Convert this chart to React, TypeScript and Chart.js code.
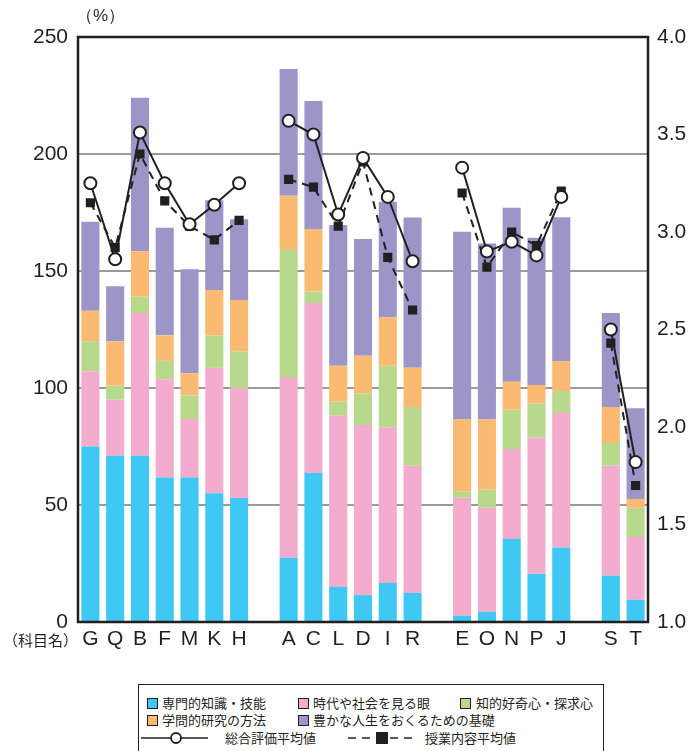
import React, { useEffect, useRef } from "react";
import { Chart, registerables } from "chart.js";

Chart.register(...registerables);

const categories = ["G", "Q", "B", "F", "M", "K", "H", "", "A", "C", "L", "D", "I", "R", "", "E", "O", "N", "P", "J", "", "S", "T"];

const seriesNames = ["専門的知識・技能", "時代や社会を見る眼", "知的好奇心・探求心", "学問的研究の方法", "豊かな人生をおくるための基礎"];
const seriesColors = ["#40C8F4", "#F3ACCD", "#B8D98C", "#FBBA72", "#9C96C8"];

const knowledge = [75, 71, 71, 61.7, 61.7, 55, 53, null, 27.5, 63.7, 15, 11.5, 16.7, 12.4, null, 2.7, 4.4, 35.5, 20.6, 31.8, null, 19.8, 9.5];
const society = [32, 24, 61, 42, 25, 53.6, 47, null, 77.2, 72.6, 73.2, 72.7, 66.3, 54.4, null, 50.4, 44.4, 38.4, 58.2, 57.5, null, 47, 26.8];
const curiosity = [13, 6, 7, 7.9, 10.2, 13.9, 15.7, null, 54.7, 4.9, 6, 13.4, 26.5, 25.1, null, 2.6, 7.7, 16.8, 14.5, 9.4, null, 9.7, 12.5];
const method = [13, 19, 19.5, 10.9, 9.4, 19.4, 21.9, null, 22.8, 26.8, 15.3, 16.2, 20.8, 16.8, null, 30.8, 30, 12, 8, 12.8, null, 15.4, 3.8];
const lifeBase = [38, 23.5, 65.5, 46, 44.5, 38.3, 34.5, null, 54.1, 54.6, 60.2, 49.9, 49.3, 64.2, null, 80.3, 75.2, 74.3, 62.9, 61.5, null, 40.1, 38.7];

const overallAvg = [3.25, 2.86, 3.51, 3.25, 3.04, 3.14, 3.25, null, 3.57, 3.5, 3.09, 3.38, 3.18, 2.85, null, 3.33, 2.9, 2.95, 2.88, 3.18, null, 2.5, 1.82];
const contentAvg = [3.15, 2.92, 3.4, 3.16, 3.03, 2.96, 3.06, null, 3.27, 3.23, 3.03, 3.36, 2.87, 2.6, null, 3.2, 2.82, 3.0, 2.93, 3.21, null, 2.43, 1.7];

const lineNames = ["総合評価平均値", "授業内容平均値"];

const leftTicks = [0, 50, 100, 150, 200, 250];
const rightTicks = [1.0, 1.5, 2.0, 2.5, 3.0, 3.5, 4.0];

const INK = "#231F20";
const NUM_FONT = "'Liberation Sans', Arial, Helvetica, sans-serif";
const JP_FONT = "'Noto Sans CJK JP', 'Noto Sans', sans-serif";

const frame = {
  id: "frame",
  afterDraw(chart: any) {
    const { ctx, chartArea } = chart;
    ctx.save();
    ctx.strokeStyle = INK;
    ctx.lineWidth = 2.5;
    ctx.strokeRect(chartArea.left, chartArea.top, chartArea.right - chartArea.left, chartArea.bottom - chartArea.top);
    ctx.restore();
  },
};

export default function App() {
  const ref = useRef<HTMLCanvasElement | null>(null);

  useEffect(() => {
    if (!ref.current) return;
    const barSets = [knowledge, society, curiosity, method, lifeBase].map((d, i) => ({
      type: "bar" as const,
      label: seriesNames[i],
      data: d,
      backgroundColor: seriesColors[i],
      borderWidth: 0,
      yAxisID: "y",
      stack: "s",
      barPercentage: 0.73,
      categoryPercentage: 1,
      order: 2,
    }));
    const chart = new Chart(ref.current, {
      type: "bar",
      data: {
        labels: categories,
        datasets: [
          ...barSets,
          {
            type: "line" as const,
            label: lineNames[1],
            data: contentAvg,
            yAxisID: "y2",
            borderColor: INK,
            borderWidth: 2,
            borderDash: [8, 6],
            pointStyle: "rect",
            pointRadius: 6.5,
            pointBackgroundColor: INK,
            pointBorderColor: INK,
            pointBorderWidth: 0,
            spanGaps: false,
            order: 1,
          } as any,
          {
            type: "line" as const,
            label: lineNames[0],
            data: overallAvg,
            yAxisID: "y2",
            borderColor: INK,
            borderWidth: 2,
            pointStyle: "circle",
            pointRadius: 6,
            pointBackgroundColor: "#ffffff",
            pointBorderColor: INK,
            pointBorderWidth: 2,
            spanGaps: false,
            order: 0,
          } as any,
        ],
      },
      options: {
        responsive: false,
        animation: false,
        layout: { padding: { top: 37, left: 0, right: 0, bottom: 0 } },
        plugins: { legend: { display: false }, tooltip: { enabled: false } },
        scales: {
          x: {
            stacked: true,
            grid: { display: false, drawTicks: false },
            border: { display: false },
            ticks: { color: INK, font: { family: NUM_FONT, size: 21 }, padding: 5, autoSkip: false, maxRotation: 0 },
            afterFit: (s: any) => { s.height = 58; },
          },
          y: {
            stacked: true,
            position: "left",
            min: 0,
            max: 250,
            afterBuildTicks: (s: any) => { s.ticks = leftTicks.map((v) => ({ value: v })); },
            grid: { color: "#9A9A9A", lineWidth: 2, drawTicks: false },
            border: { display: false },
            ticks: { color: INK, font: { family: NUM_FONT, size: 21 }, padding: 10 },
            afterFit: (s: any) => { s.width = 78; },
          },
          y2: {
            position: "right",
            min: 1,
            max: 4,
            afterBuildTicks: (s: any) => { s.ticks = rightTicks.map((v) => ({ value: v })); },
            grid: { display: false, drawTicks: false },
            border: { display: false },
            ticks: { color: INK, font: { family: NUM_FONT, size: 21 }, padding: 9, callback: (v: any) => Number(v).toFixed(1) },
            afterFit: (s: any) => { s.width = 43; },
          },
        },
      } as any,
      plugins: [frame],
    });
    return () => chart.destroy();
  }, []);

  const txt: React.CSSProperties = { position: "absolute", fontFamily: JP_FONT, fontSize: 13, color: INK, lineHeight: "16px", whiteSpace: "nowrap" };
  const sq = (c: string, x: number, y: number) => (
    <div style={{ position: "absolute", left: x, top: y, width: 9, height: 9, background: c, border: `1px solid ${INK}` }} />
  );

  return (
    <div style={{ position: "absolute", left: 0, top: 0, width: 691, height: 751, overflow: "hidden", background: "#fff" }}>
      <canvas ref={ref} width={691} height={680} style={{ position: "absolute", left: 0, top: 0, width: 691, height: 680 }} />
      <div style={{ position: "absolute", left: 76, top: 4, fontFamily: NUM_FONT, fontSize: 17, color: INK }}>（%）</div>
      <div style={{ position: "absolute", left: 3, top: 629, fontFamily: JP_FONT, fontSize: 15, color: INK, whiteSpace: "nowrap" }}>（科目名）</div>
      <div style={{ position: "absolute", left: 138, top: 684, width: 466, height: 80, border: `1.5px solid ${INK}`, boxSizing: "border-box" }} />
      {sq(seriesColors[0], 147, 698)}
      <div style={{ ...txt, left: 162, top: 695 }}>{seriesNames[0]}</div>
      {sq(seriesColors[1], 298, 698)}
      <div style={{ ...txt, left: 313, top: 695 }}>{seriesNames[1]}</div>
      {sq(seriesColors[2], 460, 698)}
      <div style={{ ...txt, left: 476, top: 695 }}>{seriesNames[2]}</div>
      {sq(seriesColors[3], 147, 715)}
      <div style={{ ...txt, left: 162, top: 712 }}>{seriesNames[3]}</div>
      {sq(seriesColors[4], 298, 715)}
      <div style={{ ...txt, left: 313, top: 712 }}>{seriesNames[4]}</div>
      <svg style={{ position: "absolute", left: 0, top: 728 }} width={691} height={20}>
        <line x1={141} y1={10} x2={208} y2={10} stroke={INK} strokeWidth={1.6} />
        <circle cx={176} cy={10} r={5} fill="#fff" stroke={INK} strokeWidth={1.8} />
        <line x1={348} y1={10} x2={418} y2={10} stroke={INK} strokeWidth={1.6} strokeDasharray="8 6" />
        <rect x={376} y={4} width={12} height={12} fill={INK} />
      </svg>
      <div style={{ ...txt, left: 225, top: 730 }}>{lineNames[0]}</div>
      <div style={{ ...txt, left: 425, top: 730 }}>{lineNames[1]}</div>
    </div>
  );
}
